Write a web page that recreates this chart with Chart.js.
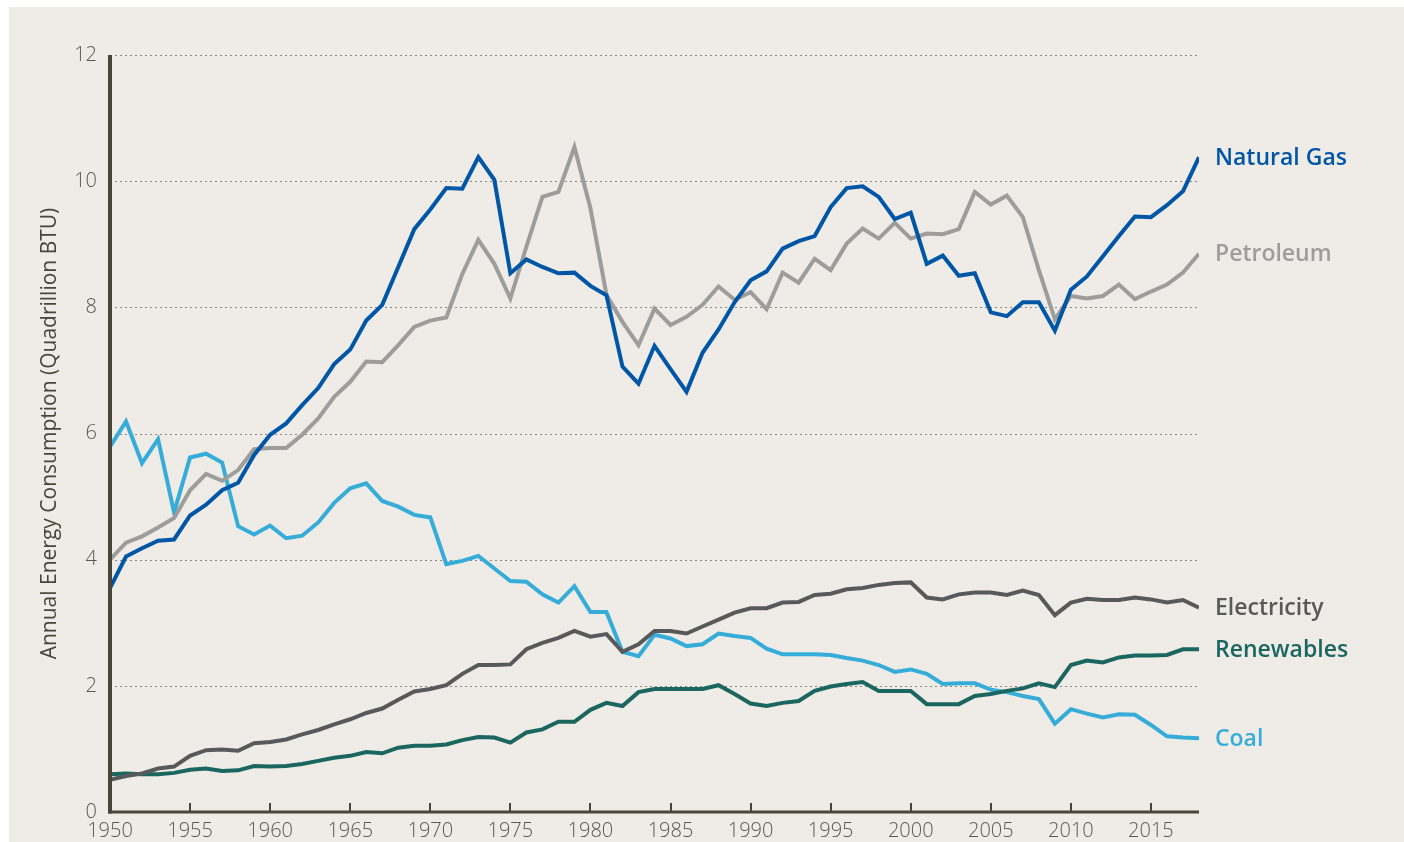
<!DOCTYPE html>
<html>
<head>
<meta charset="utf-8">
<script src="https://cdn.jsdelivr.net/npm/chart.js@4.4.0/dist/chart.umd.min.js"></script>
<style>
  html, body { margin: 0; padding: 0; background: #ffffff; }
  #panel { position: absolute; left: 9px; top: 7px; right: 0; bottom: 0; background: #efece7; }
  #wrap { position: absolute; left: 0; top: 0; width: 1404px; height: 842px; }
</style>
</head>
<body>
<div id="panel"></div>
<div id="wrap"><canvas id="energy"></canvas></div>
<script>
const years = []
for (let y = 1950; y <= 2018; y++) years.push(y)

const naturalGas = [
  3.55, 4.05, 4.18, 4.30, 4.32, 4.70, 4.87, 5.10, 5.22, 5.66,
  5.98, 6.16, 6.45, 6.72, 7.10, 7.33, 7.79, 8.04, 8.64, 9.24,
  9.55, 9.89, 9.88, 10.38, 10.02, 8.54, 8.76, 8.64, 8.54, 8.55,
  8.34, 8.19, 7.06, 6.79, 7.39, 7.02, 6.66, 7.28, 7.65, 8.08,
  8.43, 8.57, 8.93, 9.05, 9.13, 9.59, 9.89, 9.92, 9.75, 9.40,
  9.50, 8.69, 8.82, 8.50, 8.54, 7.92, 7.86, 8.08, 8.08, 7.63,
  8.28, 8.49, 8.81, 9.13, 9.44, 9.43, 9.62, 9.84, 10.38
]
const petroleum = [
  4.00, 4.27, 4.37, 4.51, 4.66, 5.10, 5.36, 5.25, 5.42, 5.75,
  5.77, 5.77, 5.98, 6.24, 6.58, 6.82, 7.14, 7.13, 7.40, 7.69,
  7.79, 7.84, 8.53, 9.07, 8.69, 8.14, 8.96, 9.75, 9.83, 10.54,
  9.57, 8.20, 7.77, 7.40, 7.98, 7.72, 7.85, 8.04, 8.33, 8.12,
  8.24, 7.97, 8.55, 8.39, 8.77, 8.59, 9.01, 9.25, 9.09, 9.34,
  9.09, 9.17, 9.16, 9.24, 9.83, 9.63, 9.77, 9.43, 8.59, 7.81,
  8.18, 8.14, 8.18, 8.36, 8.13, 8.25, 8.36, 8.55, 8.85
]
const electricity = [
  0.51, 0.57, 0.61, 0.69, 0.72, 0.89, 0.98, 0.99, 0.97, 1.09,
  1.11, 1.15, 1.23, 1.30, 1.39, 1.47, 1.57, 1.64, 1.78, 1.91,
  1.95, 2.01, 2.19, 2.33, 2.33, 2.34, 2.58, 2.68, 2.76, 2.87,
  2.78, 2.82, 2.54, 2.66, 2.87, 2.87, 2.83, 2.94, 3.05, 3.16,
  3.23, 3.23, 3.32, 3.33, 3.44, 3.46, 3.53, 3.55, 3.60, 3.63,
  3.64, 3.40, 3.37, 3.45, 3.48, 3.48, 3.44, 3.51, 3.44, 3.12,
  3.32, 3.38, 3.36, 3.36, 3.40, 3.37, 3.32, 3.36, 3.24
]
const renewables = [
  0.60, 0.61, 0.60, 0.60, 0.62, 0.67, 0.69, 0.65, 0.66, 0.73,
  0.72, 0.73, 0.76, 0.81, 0.86, 0.89, 0.95, 0.93, 1.02, 1.05,
  1.05, 1.07, 1.14, 1.19, 1.18, 1.10, 1.26, 1.31, 1.43, 1.43,
  1.62, 1.73, 1.68, 1.90, 1.95, 1.95, 1.95, 1.95, 2.01, 1.87,
  1.72, 1.68, 1.73, 1.76, 1.92, 1.99, 2.03, 2.06, 1.92, 1.92,
  1.92, 1.71, 1.71, 1.71, 1.84, 1.87, 1.92, 1.96, 2.04, 1.98,
  2.33, 2.40, 2.37, 2.45, 2.48, 2.48, 2.49, 2.58, 2.58
]
const coal = [
  5.79, 6.19, 5.53, 5.91, 4.75, 5.62, 5.68, 5.54, 4.53, 4.40,
  4.54, 4.34, 4.38, 4.59, 4.90, 5.13, 5.21, 4.93, 4.84, 4.71,
  4.67, 3.93, 3.98, 4.06, 3.86, 3.66, 3.65, 3.45, 3.32, 3.58,
  3.17, 3.17, 2.54, 2.47, 2.81, 2.75, 2.63, 2.66, 2.83, 2.79,
  2.76, 2.59, 2.50, 2.50, 2.50, 2.49, 2.44, 2.40, 2.33, 2.22,
  2.26, 2.19, 2.03, 2.04, 2.04, 1.94, 1.90, 1.84, 1.79, 1.40,
  1.63, 1.56, 1.50, 1.55, 1.54, 1.38, 1.20, 1.18, 1.17
]

const yTicks = [0, 2, 4, 6, 8, 10, 12]
const xTicks = [1950, 1955, 1960, 1965, 1970, 1975, 1980, 1985, 1990, 1995, 2000, 2005, 2010, 2015]

const axisColor = '#4a4538'
const tickFont = {family: "'Open Sans', sans-serif", size: 20, weight: '300'}

const toPoints = (vals) => years.map((yr, i) => ({x: yr, y: vals[i]}))
const series = (label, vals, color, order) => ({
  label: label,
  data: toPoints(vals),
  borderColor: color,
  backgroundColor: color,
  borderWidth: 4,
  pointRadius: 0,
  tension: 0,
  order: order
})

// dotted grid, axis lines, inward x ticks
const axesPlugin = {
  id: 'axes',
  beforeDatasetsDraw(chart) {
    const {ctx, chartArea, scales} = chart
    ctx.save()
    ctx.strokeStyle = '#8a8680'
    ctx.lineWidth = 1
    ctx.setLineDash([2, 3])
    yTicks.forEach(v => {
      if (v === 0) return
      const y = Math.round(scales.y.getPixelForValue(v)) + 0.5
      ctx.beginPath()
      ctx.moveTo(chartArea.left, y)
      ctx.lineTo(chartArea.right, y)
      ctx.stroke()
    })
    ctx.restore()
  },
  afterDatasetsDraw(chart) {
    const {ctx, chartArea, scales} = chart
    ctx.save()
    ctx.strokeStyle = axisColor
    ctx.lineWidth = 4
    ctx.beginPath()
    ctx.moveTo(chartArea.left, chartArea.top)
    ctx.lineTo(chartArea.left, chartArea.bottom + 1.5)
    ctx.stroke()
    ctx.lineWidth = 3
    ctx.beginPath()
    ctx.moveTo(chartArea.left - 2, chartArea.bottom)
    ctx.lineTo(chartArea.right, chartArea.bottom)
    ctx.stroke()
    ctx.lineWidth = 2
    xTicks.forEach(v => {
      if (v === 1950) return
      const x = Math.round(scales.x.getPixelForValue(v))
      ctx.beginPath()
      ctx.moveTo(x, chartArea.bottom)
      ctx.lineTo(x, chartArea.bottom - 9)
      ctx.stroke()
    })
    ctx.restore()
  }
}

// series names at the end of each line
const endLabels = {
  id: 'endLabels',
  afterDatasetsDraw(chart) {
    const {ctx} = chart
    ctx.save()
    ctx.font = "600 23px 'Open Sans', sans-serif"
    ctx.textBaseline = 'middle'
    ctx.textAlign = 'left'
    chart.data.datasets.forEach((ds, i) => {
      const pts = chart.getDatasetMeta(i).data
      const last = pts[pts.length - 1]
      ctx.fillStyle = ds.borderColor
      ctx.fillText(ds.label, last.x + 16, last.y + 1)
    })
    ctx.restore()
  }
}

const chart = new Chart(document.getElementById('energy'), {
  type: 'line',
  data: {
    datasets: [
      series('Natural Gas', naturalGas, '#0056a6', 0),
      series('Petroleum', petroleum, '#9d9d9c', 1),
      series('Electricity', electricity, '#58595b', 2),
      series('Renewables', renewables, '#1b665f', 3),
      series('Coal', coal, '#36acd9', 4)
    ]
  },
  options: {
    responsive: true,
    maintainAspectRatio: false,
    animation: false,
    layout: {padding: {top: 55, right: 205, left: 0, bottom: 0}},
    plugins: {legend: {display: false}, tooltip: {enabled: false}},
    scales: {
      x: {
        type: 'linear',
        min: 1950,
        max: 2018,
        afterFit: (scale) => { scale.height = 30 },
        afterBuildTicks: (scale) => { scale.ticks = xTicks.map(v => ({value: v})) },
        grid: {display: false, drawTicks: false},
        border: {display: false},
        ticks: {
          color: '#5b5852',
          font: tickFont,
          padding: 7,
          maxRotation: 0,
          autoSkip: false,
          callback: (v) => String(v)
        }
      },
      y: {
        min: 0,
        max: 12,
        afterFit: (scale) => { scale.width = 110 },
        afterBuildTicks: (scale) => { scale.ticks = yTicks.map(v => ({value: v})) },
        grid: {display: false, drawTicks: false},
        border: {display: false},
        ticks: {color: '#5b5852', font: tickFont, padding: 13},
        title: {
          display: true,
          text: 'Annual Energy Consumption (Quadrillion BTU)',
          color: '#4a4538',
          font: {family: "'Open Sans', sans-serif", size: 21, weight: '400'},
          padding: {top: 37, bottom: 0}
        }
      }
    }
  },
  plugins: [axesPlugin, endLabels]
})
</script>
</body>
</html>
